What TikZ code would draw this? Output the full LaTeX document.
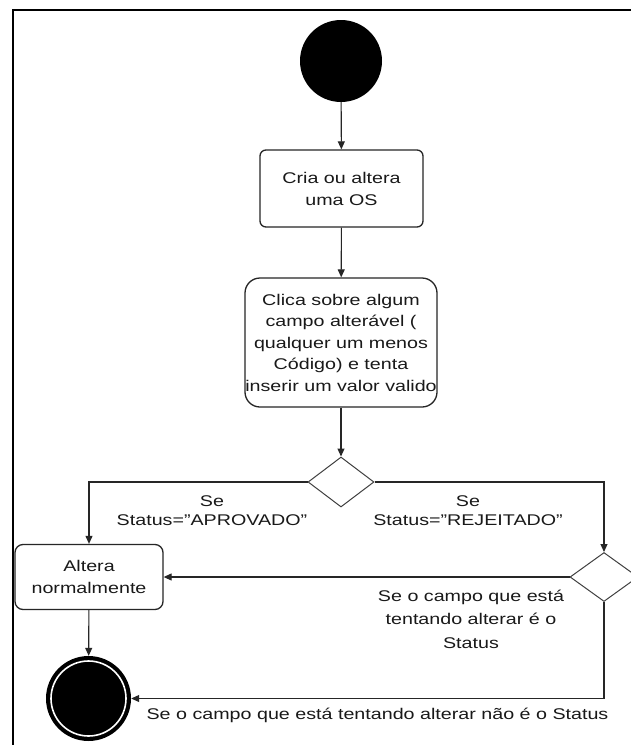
\documentclass[tikz,border=0pt]{standalone}
\usepackage{fontspec}
\setmainfont[FakeStretch=1.27]{Liberation Sans}
\usetikzlibrary{shapes.geometric,arrows.meta}
\begin{document}
\begin{tikzpicture}[x=1pt,y=-1pt,
  every node/.style={text=black!90},
  txt/.style={font=\fontsize{15.5}{#1}\selectfont},
  act/.style={draw=black!85, line width=1.3pt, fill=white, align=center, inner sep=0pt},
  dec/.style={diamond, draw=black!75, line width=1pt, fill=white, inner sep=0pt},
  flow/.style={draw=black!85, line width=1.1pt, -{Triangle[length=8pt,width=7pt]}},
  lbl/.style={align=center, inner sep=0pt}]
\useasboundingbox (0,0) rectangle (631,745);
\clip (0,0) rectangle (631,745);
\fill[white] (0,0) rectangle (631,745);
% frame
\draw[line width=2pt, black] (13,760) -- (13,10) -- (660,10);

% nodes
\node[circle, fill=black, minimum size=82pt, inner sep=0pt] (start) at (341,61) {};
\node[act, rounded corners=6pt, minimum width=163pt, minimum height=77pt, txt=22]
  (b1) at (341.5,188.5) {Cria ou altera\\uma OS};
\node[act, rounded corners=15pt, minimum width=192pt, minimum height=129pt, txt=21.5]
  (b2) at (341,342.5) {Clica sobre algum\\campo alterável (\\qualquer um menos\\Código) e tenta\\inserir um valor valido};
\node[dec, minimum width=66pt, minimum height=50pt] (d1) at (341,482) {};
\node[act, rounded corners=8pt, minimum width=148pt, minimum height=65pt, txt=22]
  (b3) at (89,577) {Altera\\normalmente};
\node[dec, minimum width=68pt, minimum height=49pt] (d2) at (604,577) {};
\node[circle, fill=black, minimum size=85pt, inner sep=0pt] (end) at (88.5,698.5) {};
\draw[white, line width=1.6pt] (end.center) circle (37.5);

% labels
\node[lbl, txt=19] (l1) at (212,511) {Se\\Status="APROVADO"};
\node[lbl, txt=19] (l2) at (468,511) {Se\\Status="REJEITADO"};
\node[lbl, txt=23.5] (l3) at (471,619) {Se o campo que está\\tentando alterar é o\\Status};
\node[lbl, txt=20] (l4) at (377.5,715.5) {Se o campo que está tentando alterar não é o Status};

% connectors
\draw[flow] (start) -- (b1);
\draw[flow] (b1) -- (b2);
\draw[flow] (b2) -- (d1);
\draw[flow] (d1.west) -| (b3.north);
\draw[flow] (d1.east) -| (d2.north);
\draw[flow] (d2.west) -- (b3.east);
\draw[flow] (b3) -- (end);
\draw[flow] (d2.south) |- (end.east);
\end{tikzpicture}
\end{document}
